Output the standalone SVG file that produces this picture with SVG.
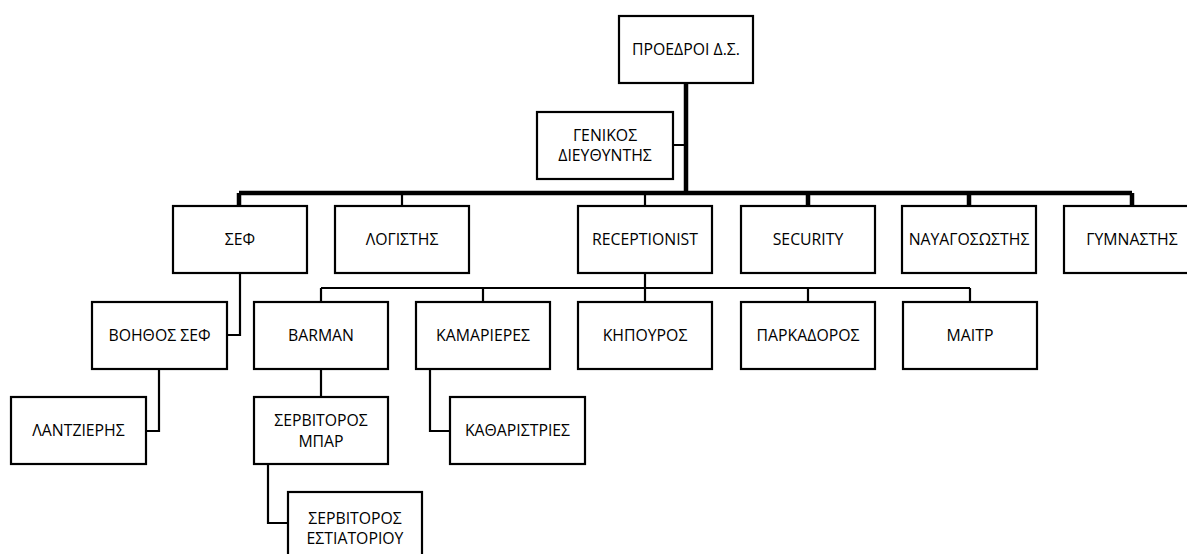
<svg xmlns="http://www.w3.org/2000/svg" width="1187" height="554" viewBox="0 0 1187 554">
<style>
.box{fill:#fff;stroke:#000;stroke-width:2.2}
.t{font-family:"Open Sans","Noto Sans",sans-serif;font-size:15.8px;fill:#000;text-anchor:middle}
.thick{fill:none;stroke:#000;stroke-width:4.5}
.thin{fill:none;stroke:#000;stroke-width:2.2}
</style>
<rect width="1187" height="554" fill="#fff"/>
<g id="connectors">
<path class="thick" d="M686,83V193M239,193H1132M239,193V206M808,193V206M969,193V206M1132,193V206"/>
<path class="thin" d="M673,145H686M402,193V206M645,193V206M645,273V302M321,288H970M321,288V302M483,288V302M808,288V302M970,288V302M240,273V335H227M159,369V431H146M321,369V397M430,369V431H450M268,464V523H288"/>
</g>
<g id="proedroi"><rect class="box" x="619" y="16" width="134" height="67"/><text class="t" x="686" y="55">ΠΡΟΕΔΡΟΙ Δ.Σ.</text></g>
<g id="genikos"><rect class="box" x="537" y="112" width="136" height="67"/><text class="t" x="605" y="141">ΓΕΝΙΚΟΣ</text><text class="t" x="605" y="161">ΔΙΕΥΘΥΝΤΗΣ</text></g>
<g id="sef"><rect class="box" x="173" y="206" width="134" height="67"/><text class="t" x="240" y="245">ΣΕΦ</text></g>
<g id="logistis"><rect class="box" x="335" y="206" width="134" height="67"/><text class="t" x="402" y="245">ΛΟΓΙΣΤΗΣ</text></g>
<g id="receptionist"><rect class="box" x="578" y="206" width="134" height="67"/><text class="t" x="645" y="245">RECEPTIONIST</text></g>
<g id="security"><rect class="box" x="741" y="206" width="134" height="67"/><text class="t" x="808" y="245">SECURITY</text></g>
<g id="nayagosostis"><rect class="box" x="902" y="206" width="134" height="67"/><text class="t" x="969" y="245">ΝΑΥΑΓΟΣΩΣΤΗΣ</text></g>
<g id="gymnastis"><rect class="box" x="1064" y="206" width="136" height="67"/><text class="t" x="1132" y="245">ΓΥΜΝΑΣΤΗΣ</text></g>
<g id="boithos"><rect class="box" x="92" y="302" width="135" height="67"/><text class="t" x="159.5" y="341">ΒΟΗΘΟΣ ΣΕΦ</text></g>
<g id="lantzieris"><rect class="box" x="11" y="397" width="135" height="67"/><text class="t" x="78.5" y="436">ΛΑΝΤΖΙΕΡΗΣ</text></g>
<g id="barman"><rect class="box" x="254" y="302" width="134" height="67"/><text class="t" x="321" y="341">BARMAN</text></g>
<g id="kamarieres"><rect class="box" x="416" y="302" width="134" height="67"/><text class="t" x="483" y="341">ΚΑΜΑΡΙΕΡΕΣ</text></g>
<g id="khpouros"><rect class="box" x="578" y="302" width="134" height="67"/><text class="t" x="645" y="341">ΚΗΠΟΥΡΟΣ</text></g>
<g id="parkadoros"><rect class="box" x="741" y="302" width="134" height="67"/><text class="t" x="808" y="341">ΠΑΡΚΑΔΟΡΟΣ</text></g>
<g id="maitr"><rect class="box" x="903" y="302" width="134" height="67"/><text class="t" x="970" y="341">ΜΑΙΤΡ</text></g>
<g id="servitoros-mpar"><rect class="box" x="254" y="397" width="134" height="67"/><text class="t" x="321" y="426">ΣΕΡΒΙΤΟΡΟΣ</text><text class="t" x="321" y="447">ΜΠΑΡ</text></g>
<g id="katharistries"><rect class="box" x="450" y="397" width="135" height="67"/><text class="t" x="517.5" y="436">ΚΑΘΑΡΙΣΤΡΙΕΣ</text></g>
<g id="servitoros-estiatoriou"><rect class="box" x="288" y="492" width="134" height="67"/><text class="t" x="355" y="524">ΣΕΡΒΙΤΟΡΟΣ</text><text class="t" x="355" y="544">ΕΣΤΙΑΤΟΡΙΟΥ</text></g>
</svg>
